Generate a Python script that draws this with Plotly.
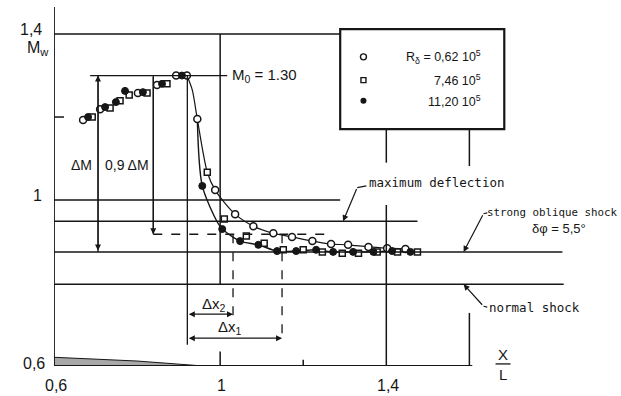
import plotly.graph_objects as go

# ---------------- data (X/L, M_w) ----------------
open_x = [0.670, 0.711, 0.802, 0.848, 0.894, 0.920, 0.945, 0.988, 1.036, 1.080, 1.128,
          1.173, 1.222, 1.267, 1.308, 1.357, 1.402, 1.446]
open_m = [1.193, 1.219, 1.258, 1.277, 1.300, 1.300, 1.195, 1.024, 0.966, 0.937, 0.920,
          0.911, 0.901, 0.894, 0.892, 0.887, 0.884, 0.882]
sq_x = [0.692, 0.735, 0.759, 0.781, 0.824, 0.872, 0.969, 1.010, 1.063, 1.106, 1.152,
        1.200, 1.246, 1.294, 1.333, 1.378, 1.427, 1.475]
sq_m = [1.200, 1.222, 1.239, 1.253, 1.258, 1.280, 1.067, 0.954, 0.913, 0.896, 0.880,
        0.880, 0.875, 0.872, 0.872, 0.875, 0.875, 0.875]
fill_x = [0.682, 0.723, 0.749, 0.771, 0.814, 0.860, 0.908, 0.957, 1.005, 1.048, 1.092,
          1.137, 1.183, 1.231, 1.272, 1.320, 1.369, 1.414, 1.458]
fill_m = [1.200, 1.224, 1.236, 1.263, 1.260, 1.280, 1.300, 1.034, 0.930, 0.901, 0.892,
          0.877, 0.877, 0.880, 0.875, 0.875, 0.875, 0.877, 0.875]

# faired curves drawn through the points
curve_a_x = [0.920, 0.933, 0.945, 0.969, 0.988, 1.036, 1.080, 1.128, 1.173, 1.222, 1.267,
             1.308, 1.357, 1.402, 1.446]
curve_a_m = [1.300, 1.265, 1.195, 1.067, 1.024, 0.966, 0.937, 0.920, 0.911, 0.901, 0.894,
             0.892, 0.887, 0.884, 0.882]
curve_b_x = [0.945, 0.957, 0.993, 1.005, 1.048, 1.092, 1.137, 1.183, 1.231, 1.272, 1.320,
             1.369, 1.414, 1.458]
curve_b_m = [1.195, 1.034, 0.947, 0.930, 0.901, 0.892, 0.877, 0.877, 0.880, 0.875, 0.875,
             0.875, 0.877, 0.875]

# body contour (hatched wedge at the bottom)
wedge_x = [0.600, 0.600, 0.800, 0.960]
wedge_m = [0.600, 0.621, 0.612, 0.600]

# reference levels
M0 = 1.30
M_MAXDEF = 0.949
M_OBLIQUE = 0.875
M_NORMAL = 0.797
M_09 = M0 - 0.9 * (M0 - M_OBLIQUE)
X0 = 0.921
X_DX2 = 1.031
X_DX1 = 1.149

legend_labels = ["R<sub>δ</sub> = 0,62 10<sup>5</sup>", "7,46 10<sup>5</sup>", "11,20 10<sup>5</sup>"]
xtick_vals = [0.6, 1.0, 1.4]
xtick_text = ["0,6", "1", "1,4"]
ytick_vals = [0.6, 1.0, 1.4]
ytick_text = ["0,6", "1", "1,4"]

X_RANGE = [0.6, 1.9]
Y_RANGE = [0.6, 1.47]

INK = "#161616"
FONT = "Liberation Sans, Arial, sans-serif"
MONO = "DejaVu Sans Mono, monospace"

fig = go.Figure()

# wedge
fig.add_trace(go.Scatter(x=wedge_x, y=wedge_m, mode="lines", fill="toself",
                         fillcolor="#a8a8a8", line=dict(color=INK, width=1),
                         hoverinfo="skip", showlegend=False))

# curves
fig.add_trace(go.Scatter(x=curve_a_x, y=curve_a_m, mode="lines", line_shape="spline",
                         line=dict(color=INK, width=1.2, smoothing=0.8), showlegend=False))
fig.add_trace(go.Scatter(x=curve_b_x, y=curve_b_m, mode="lines", line_shape="spline",
                         line=dict(color=INK, width=1.4, smoothing=0.8), showlegend=False))

# points
fig.add_trace(go.Scatter(x=sq_x, y=sq_m, mode="markers",
                         marker=dict(symbol="square", size=6, color="white",
                                     line=dict(color=INK, width=1.5)), showlegend=False))
fig.add_trace(go.Scatter(x=open_x, y=open_m, mode="markers",
                         marker=dict(symbol="circle", size=7, color="white",
                                     line=dict(color=INK, width=1.5)), showlegend=False))
fig.add_trace(go.Scatter(x=fill_x, y=fill_m, mode="markers",
                         marker=dict(symbol="circle", size=7, color=INK,
                                     line=dict(color=INK, width=1)), showlegend=False))

# legend box contents
leg_x = 1.345
leg_m = [1.345, 1.289, 1.239]
fig.add_trace(go.Scatter(x=[leg_x], y=[leg_m[0]], mode="markers",
                         marker=dict(symbol="circle", size=6, color="white",
                                     line=dict(color=INK, width=1.4)), showlegend=False))
fig.add_trace(go.Scatter(x=[leg_x], y=[leg_m[1]], mode="markers",
                         marker=dict(symbol="square", size=5, color="white",
                                     line=dict(color=INK, width=1.4)), showlegend=False))
fig.add_trace(go.Scatter(x=[leg_x], y=[leg_m[2]], mode="markers",
                         marker=dict(symbol="circle", size=6, color=INK), showlegend=False))

shapes = []


def seg(x0, y0, x1, y1, w=1.5, dash="solid"):
    shapes.append(dict(type="line", xref="x", yref="y", x0=x0, y0=y0, x1=x1, y1=y1,
                       line=dict(color=INK, width=w, dash=dash)))


# axes
seg(0.6, 0.6, 0.6, 1.465, 1.8)
seg(0.6, 0.6, 1.607, 0.6, 1.8)
seg(1.6, 0.6, 1.6, 0.728)
seg(1.6, 1.171, 1.6, 1.082)
# ticks
seg(0.6, 1.2, 0.624, 1.2)
seg(1.2, 0.6, 1.2, 0.615)
seg(1.0, 0.6, 1.0, 0.635)
# grid lines
seg(0.6, 1.4, 1.289, 1.4)
seg(0.6, 1.0, 1.289, 1.0)
seg(1.0, 1.4, 1.0, M_NORMAL)
seg(1.4, 0.6, 1.4, 0.988)
seg(1.4, 1.171, 1.4, 1.09)
# shock levels
seg(0.6, M_MAXDEF, 1.475, M_MAXDEF)
seg(0.6, M_OBLIQUE, 1.824, M_OBLIQUE)
seg(0.6, M_NORMAL, 1.827, M_NORMAL)
# M0 line and construction lines
seg(0.687, M0, 1.017, M0, 1.3)
seg(X0, M0, X0, 0.651, 1.3)
seg(0.706, M0, 0.706, M_OBLIQUE, 1.3)
seg(0.839, M0, 0.839, M_09, 1.3)
seg(0.839, M_09, 1.258, M_09, 1.3, "dash")
seg(X_DX2, M_09, X_DX2, 0.715, 1.3, "dash")
seg(X_DX1, M_09, X_DX1, 0.658, 1.3, "dash")
# X/L fraction bar
seg(1.663, 0.605, 1.699, 0.605, 1.3)
# leader hooks
seg(1.352, 1.034, 1.330, 1.030, 1.2)
seg(1.643, 0.969, 1.634, 0.967, 1.2)
seg(1.643, 0.742, 1.634, 0.744, 1.2)
# legend box
shapes.append(dict(type="rect", xref="x", yref="y", x0=1.289, x1=1.684, y0=1.171, y1=1.412,
                   line=dict(color=INK, width=2.2), fillcolor="white", layer="below"))

annotations = []


def px_(x):
    return (x - X_RANGE[0]) / (X_RANGE[1] - X_RANGE[0])


def py_(y):
    return (y - Y_RANGE[0]) / (Y_RANGE[1] - Y_RANGE[0])


def txt(x, y, s, size=16, xa="center", ya="middle", font=FONT):
    # placed in paper coordinates so that text outside the data range is still drawn
    annotations.append(dict(x=px_(x), y=py_(y), xref="paper", yref="paper", text=s,
                            showarrow=False, xanchor=xa, yanchor=ya,
                            font=dict(family=font, size=size, color=INK)))


def arrow(xh, yh, xt, yt, both=False, w=1.2):
    annotations.append(dict(x=xh, y=yh, ax=xt, ay=yt, xref="x", yref="y", axref="x", ayref="y",
                            text="", showarrow=True, arrowhead=2, arrowsize=1, arrowwidth=w,
                            arrowcolor=INK, arrowside="end+start" if both else "end",
                            standoff=0, startstandoff=0))


# tick labels
for v, t in zip(xtick_vals, xtick_text):
    txt(v + 0.004, 0.553, t, 16)
txt(0.545, 1.411, ytick_text[2], 16)
txt(0.560, 1.010, ytick_text[1], 16)
txt(0.552, 0.607, ytick_text[0], 16)
# axis titles
txt(0.561, 1.364, "M<sub>w</sub>", 16)
txt(1.681, 0.627, "X", 15)
txt(1.681, 0.579, "L", 15)
# annotations
txt(1.024, M0, "M<sub>0</sub> = 1.30", 15, xa="left")
txt(0.667, 1.084, "ΔM", 14)
txt(0.775, 1.084, "0,9 ΔM", 14)
txt(0.986, 0.748, "Δx<sub>2</sub>", 15)
txt(1.024, 0.693, "Δx<sub>1</sub>", 15)
txt(1.354, 1.042, "maximum deflection", 12.5, xa="left", font=MONO)
txt(1.637, 0.970, "strong oblique shock", 10.8, xa="left", font=MONO)
txt(1.815, 0.931, "δφ = 5,5°", 13, font=FONT)
txt(1.643, 0.742, "normal shock", 12.5, xa="left", font=MONO)
# legend texts
for m, lab in zip(leg_m, legend_labels):
    txt(1.633, m, lab, 12.5, xa="right")

# arrows
arrow(0.706, M0, 0.706, M_OBLIQUE, both=True)
arrow(0.839, M_09, 0.839, M0)
arrow(X_DX2, 0.725, X0, 0.725, both=True)
arrow(X_DX1, 0.667, X0, 0.667, both=True)
arrow(1.296, M_MAXDEF, 1.330, 1.030)
arrow(1.586, M_OBLIQUE, 1.634, 0.967)
arrow(1.586, M_NORMAL, 1.634, 0.744)

fig.update_layout(
    width=621, height=396,
    margin=dict(l=54, r=27, t=5, b=30),
    paper_bgcolor="white", plot_bgcolor="white",
    xaxis=dict(range=X_RANGE, visible=False, fixedrange=True),
    yaxis=dict(range=Y_RANGE, visible=False, fixedrange=True),
    shapes=shapes, annotations=annotations, showlegend=False,
)

fig.write_html("out.html")
